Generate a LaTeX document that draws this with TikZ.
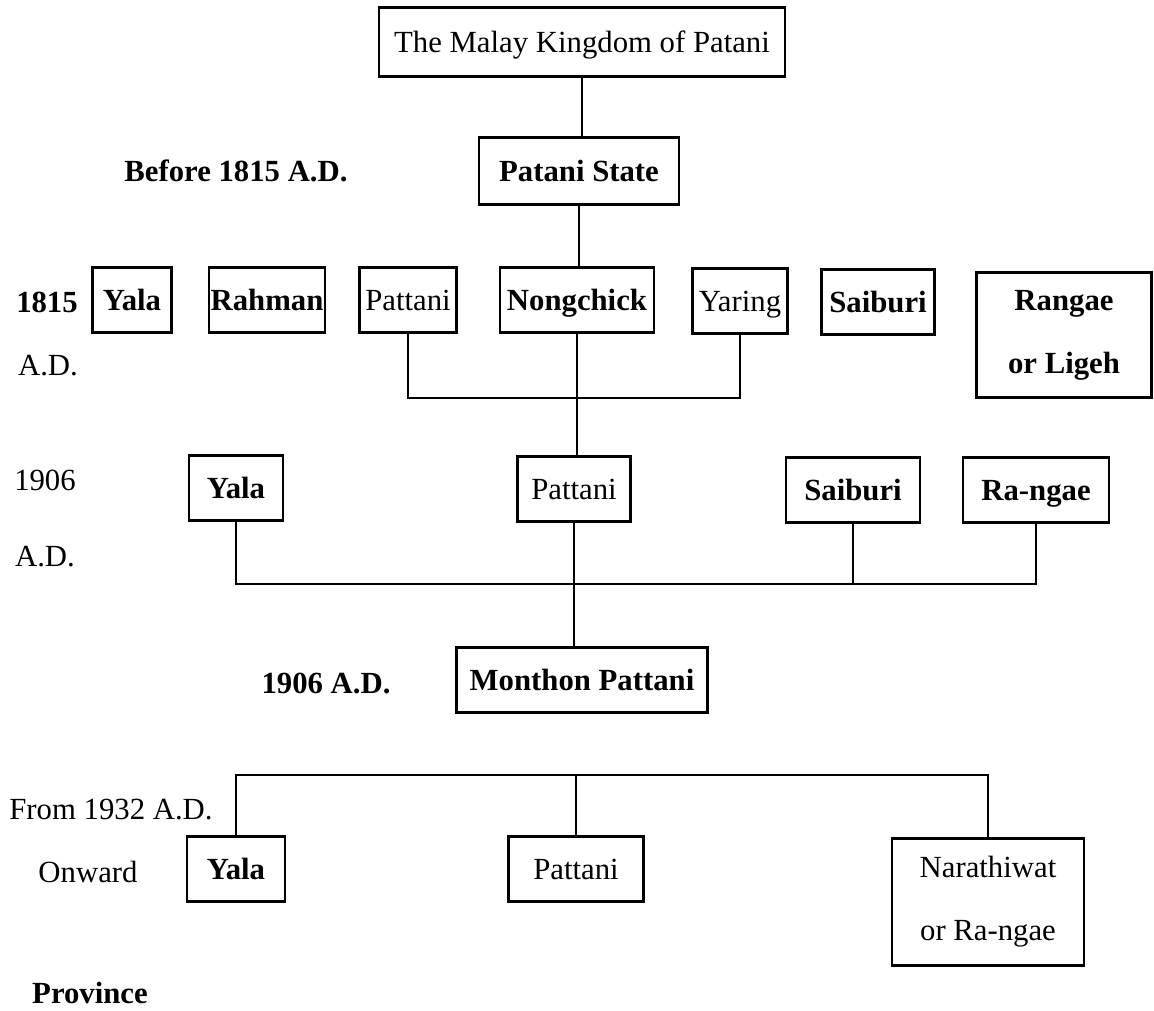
\documentclass[tikz,border=0pt]{standalone}
\usepackage{fontspec}
\setmainfont{Liberation Serif}
\begin{document}
\begin{tikzpicture}[x=0.02cm,y=-0.02cm,
    every node/.style={font=\fontsize{17.5}{21}\selectfont, inner sep=0pt},
    box/.style={draw, line width=1.6pt, minimum height=65*0.02cm, text height=14.5pt, text depth=2.5pt},
    tallbox/.style={draw, line width=1.6pt, align=center, font=\fontsize{17.5}{36}\selectfont},
    link/.style={line width=1.2pt}]

    \useasboundingbox (0,0) rectangle (1154,1011);

    \node[box, minimum width=406*0.02cm, minimum height=69*0.02cm] (king) at (582,42) {The Malay Kingdom of Patani};
    \node[box, minimum width=200*0.02cm, minimum height=67*0.02cm, font=\fontsize{17.5}{21}\selectfont\bfseries] (state) at (579,171) {Patani State};
    \node[font=\fontsize{17.5}{21}\selectfont\bfseries] (before) at (236,171) {Before 1815 A.D.};

    \node[font=\fontsize{17.5}{21}\selectfont\bfseries] (yearA) at (47,302) {1815};
    \node (adA) at (48,366) {A.D.};
    \node[box, minimum width=79*0.02cm, font=\fontsize{17.5}{21}\selectfont\bfseries] (yalaA) at (132,300) {Yala};
    \node[box, minimum width=116*0.02cm, font=\fontsize{17.5}{21}\selectfont\bfseries] (rahmanA) at (267,300) {Rahman};
    \node[box, minimum width=97*0.02cm] (pattaniA) at (408,300) {Pattani};
    \node[box, minimum width=154*0.02cm, font=\fontsize{17.5}{21}\selectfont\bfseries] (nongA) at (577,300) {Nongchick};
    \node[box, minimum width=95*0.02cm] (yaringA) at (740,301) {Yaring};
    \node[box, minimum width=113*0.02cm, font=\fontsize{17.5}{21}\selectfont\bfseries] (saiburiA) at (878,302) {Saiburi};
    \node[tallbox, minimum width=175*0.02cm, minimum height=125*0.02cm, font=\fontsize{17.5}{36}\selectfont\bfseries] (rangaeA) at (1064,335) {Rangae\\or Ligeh};

    \node (yearB) at (45,480) {1906};
    \node (adB) at (45,557) {A.D.};
    \node[box, minimum width=94*0.02cm, font=\fontsize{17.5}{21}\selectfont\bfseries] (yalaB) at (236,488) {Yala};
    \node[box, minimum width=113*0.02cm] (pattaniB) at (574,489) {Pattani};
    \node[box, minimum width=134*0.02cm, font=\fontsize{17.5}{21}\selectfont\bfseries] (saiburiB) at (853,490) {Saiburi};
    \node[box, minimum width=146*0.02cm, font=\fontsize{17.5}{21}\selectfont\bfseries] (rangaeB) at (1036,490) {Ra-ngae};

    \node[font=\fontsize{17.5}{21}\selectfont\bfseries] (yearM) at (326,683) {1906 A.D.};
    \node[box, minimum width=251*0.02cm, font=\fontsize{17.5}{21}\selectfont\bfseries] (monthon) at (582,680) {Monthon Pattani};

    \node (from) at (111,810) {From 1932 A.D.};
    \node (onward) at (88,872) {Onward};
    \node[font=\fontsize{17.5}{21}\selectfont\bfseries] (province) at (90,993) {Province};
    \node[box, minimum width=98*0.02cm, font=\fontsize{17.5}{21}\selectfont\bfseries] (yalaC) at (236,869) {Yala};
    \node[box, minimum width=135*0.02cm] (pattaniC) at (576,869) {Pattani};
    \node[tallbox, minimum width=192*0.02cm, minimum height=127*0.02cm] (narC) at (988,902) {Narathiwat\\or Ra-ngae};

    \coordinate (jA) at (577,398);
    \coordinate (jB) at (577,584);
    \coordinate (jC) at (576,775);

    \draw[link] (king.south) -- (king.south |- state.north);
    \draw[link] (state.south) -- (state.south |- nongA.north);
    \draw[link] (pattaniA.south) |- (jA) -| (yaringA.south);
    \draw[link] (nongA.south) -- (nongA.south |- pattaniB.north);
    \draw[link] (yalaB.south) |- (jB) -| (rangaeB.south);
    \draw[link] (saiburiB.south) -- (saiburiB.south |- jB);
    \draw[link] (pattaniB.south) -- (pattaniB.south |- monthon.north);
    \draw[link] (yalaC.north) |- (jC) -| (narC.north);
    \draw[link] (pattaniC.north) -- (pattaniC.north |- jC);
\end{tikzpicture}
\end{document}
